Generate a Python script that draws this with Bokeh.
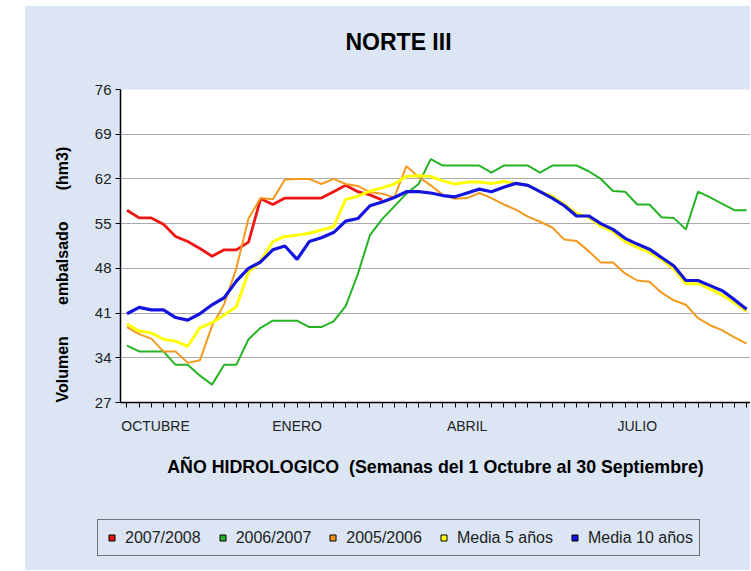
from bokeh.plotting import figure
from bokeh.models import Range1d, FixedTicker, Legend, LegendItem, Title, Spacer, Label
from bokeh.layouts import row, column
from bokeh.embed import file_html
from bokeh.resources import INLINE

weeks = list(range(52))
month_ticks = [2.35, 14, 28, 42]
month_labels = ["OCTUBRE", "ENERO", "ABRIL", "JULIO"]
y_ticks = [27, 34, 41, 48, 55, 62, 69, 76]

s_2007_2008 = [57.1, 55.9, 55.9, 54.9, 53.0, 52.2, 51.1, 49.9, 50.9, 50.9, 52.1, 58.9, 58.0,
               59.0, 59.0, 59.0, 59.0, 60.0, 61.0, 60.0, 59.5, 58.7]
s_2006_2007 = [35.9, 35.0, 35.0, 35.0, 32.9, 32.9, 31.2, 29.8, 32.9, 32.9, 36.9, 38.7, 39.8,
               39.8, 39.8, 38.8, 38.8, 39.7, 42.1, 47.1, 53.2, 55.7, 57.7, 59.7, 61.2, 65.1,
               64.1, 64.1, 64.1, 64.1, 63.0, 64.1, 64.1, 64.1, 63.0, 64.1, 64.1, 64.1, 63.2,
               62.0, 60.1, 60.0, 58.0, 58.0, 56.0, 55.9, 54.1, 60.0, 59.1, 58.1, 57.1, 57.1]
s_2005_2006 = [38.8, 37.7, 37.0, 35.0, 35.0, 33.2, 33.6, 39.0, 42.4, 48.0, 55.8, 59.0, 58.8,
               61.9, 62.0, 62.0, 61.2, 62.0, 61.2, 60.9, 59.9, 59.7, 59.1, 64.0, 62.3, 61.0,
               59.5, 58.9, 59.0, 59.8, 59.0, 58.0, 57.2, 56.1, 55.3, 54.4, 52.5, 52.3, 50.7,
               48.9, 48.9, 47.2, 46.1, 45.9, 44.2, 43.0, 42.3, 40.2, 39.1, 38.3, 37.2, 36.2]
media_5 = [39.3, 38.2, 37.9, 36.9, 36.6, 35.8, 38.7, 39.5, 40.7, 42.0, 47.4, 49.1, 52.2,
           53.0, 53.2, 53.5, 54.0, 54.5, 58.8, 59.3, 60.1, 60.6, 61.2, 62.4, 62.5, 62.4,
           61.7, 61.2, 61.5, 61.5, 61.3, 61.6, 61.3, 61.0, 60.0, 59.3, 58.0, 56.6, 56.0,
           54.6, 53.8, 52.2, 51.3, 50.5, 49.4, 47.9, 45.6, 45.6, 44.8, 43.8, 42.6, 41.3]
media_10 = [40.9, 41.9, 41.5, 41.5, 40.3, 39.9, 40.9, 42.3, 43.4, 46.0, 48.0, 49.0, 50.9,
            51.5, 49.4, 52.2, 52.8, 53.6, 55.4, 55.8, 57.8, 58.4, 59.1, 60.0, 60.0, 59.8,
            59.4, 59.2, 59.8, 60.4, 60.0, 60.7, 61.3, 61.0, 60.0, 59.0, 57.8, 56.2, 56.2,
            55.0, 54.1, 52.7, 51.8, 51.0, 49.7, 48.4, 46.1, 46.1, 45.3, 44.5, 43.1, 41.6]

series_names = ["2007/2008", "2006/2007", "2005/2006", "Media 5 años", "Media 10 años"]
series_values = [s_2007_2008, s_2006_2007, s_2005_2006, media_5, media_10]
series_colors = ["#f01414", "#26b426", "#f39a1e", "#ffff00", "#1414e0"]
series_widths = [2.8, 2, 2, 3, 3.2]

BG = "#dbe5f4"
FONT = "Liberation Sans"
W = 725

# ---- title strip ----
pt = figure(width=W, height=60, output_backend="svg", toolbar_location=None,
            x_range=Range1d(0, W), y_range=Range1d(0, 60),
            x_axis_location=None, y_axis_location=None,
            min_border_left=0, min_border_right=0, min_border_top=0, min_border_bottom=0,
            background_fill_color=BG, border_fill_color=BG, outline_line_color=None)
pt.grid.visible = False
pt.add_layout(Label(x=373, y=25, text="NORTE III", text_align="center", text_baseline="middle",
                    text_font=FONT, text_font_size="23px", text_font_style="bold",
                    text_color="black"))

# ---- main chart ----
p = figure(width=W, height=439, output_backend="svg", toolbar_location=None,
           x_range=Range1d(-0.535, 51.32), y_range=Range1d(27, 76),
           min_border_left=95, min_border_right=0, min_border_top=23, min_border_bottom=103,
           background_fill_color="white", border_fill_color=BG, outline_line_color=None)
p.title.visible = False

nb = "\u00a0" * 7
ylab = Title(text="Volumen" + nb + "embalsado" + nb + "(hm3)",
             align="left", offset=0, standoff=42, text_font=FONT, text_font_size="16px",
             text_font_style="bold", text_color="black")
p.add_layout(ylab, "left")

p.xgrid.visible = False
p.ygrid.ticker = FixedTicker(ticks=y_ticks)
p.ygrid.grid_line_color = "#aaaaaa"
p.ygrid.grid_line_width = 1.2

ya = p.yaxis[0]
ya.ticker = FixedTicker(ticks=y_ticks)
ya.axis_line_color = "black"
ya.axis_line_width = 1.5
ya.major_tick_line_color = "black"
ya.major_tick_out = 5
ya.major_tick_in = 0
ya.minor_tick_line_color = None
ya.major_label_text_font = FONT
ya.major_label_text_font_size = "15px"
ya.major_label_text_color = "#222222"
ya.major_label_standoff = 4

xa = p.xaxis[0]
xa.ticker = FixedTicker(ticks=month_ticks, minor_ticks=weeks)
xa.major_label_overrides = {t: l for t, l in zip(month_ticks, month_labels)}
xa.axis_line_color = "black"
xa.axis_line_width = 1.5
xa.major_tick_line_color = None
xa.major_tick_out = 5
xa.major_tick_in = 0
xa.minor_tick_line_color = "black"
xa.minor_tick_out = 5
xa.minor_tick_in = 0
xa.major_label_text_font = FONT
xa.major_label_text_font_size = "14px"
xa.major_label_text_color = "#222222"
xa.major_label_standoff = 10
xa.axis_label = "AÑO HIDROLOGICO\u00a0\u00a0(Semanas del 1 Octubre al 30 Septiembre)"
xa.axis_label_text_font = FONT
xa.axis_label_text_font_size = "17.8px"
xa.axis_label_text_font_style = "bold"
xa.axis_label_text_color = "black"
xa.axis_label_standoff = 20

for vals, col, lw in zip(series_values, series_colors, series_widths):
    p.line(weeks[:len(vals)], vals, line_color=col, line_width=lw)

# ---- legend strip ----
pl = figure(width=W, height=65, output_backend="svg", toolbar_location=None,
            x_range=Range1d(0, 1), y_range=Range1d(0, 1),
            x_axis_location=None, y_axis_location=None,
            min_border_left=0, min_border_right=0, min_border_top=0, min_border_bottom=0,
            background_fill_color=BG, border_fill_color=BG, outline_line_color=None)
pl.grid.visible = False
items = []
for name, col in zip(series_names, series_colors):
    # legend swatch only: its single point lies outside the visible range
    dummy = pl.scatter(x=[-5], y=[-5], marker="square", size=10, fill_color=col,
                       line_color="black", line_width=1)
    items.append(LegendItem(label=name, renderers=[dummy]))

legend = Legend(items=items, orientation="horizontal", location=(72, 14),
                label_text_font=FONT, label_text_font_size="16px", label_text_color="#222222",
                label_height=23,
                glyph_width=15, glyph_height=15, label_standoff=6, spacing=14, padding=6,
                margin=0, border_line_color="black", border_line_width=1,
                background_fill_color=BG, background_fill_alpha=1.0)
pl.add_layout(legend)

inner = column(row(Spacer(width=0, height=60), pt),
               row(Spacer(width=0, height=439), p),
               row(Spacer(width=0, height=65), pl),
               spacing=0, styles={"background-color": BG})
layout = column(Spacer(width=10, height=6),
                row(Spacer(width=25, height=564), inner))
open("out.html", "w").write(file_html(layout, INLINE))
